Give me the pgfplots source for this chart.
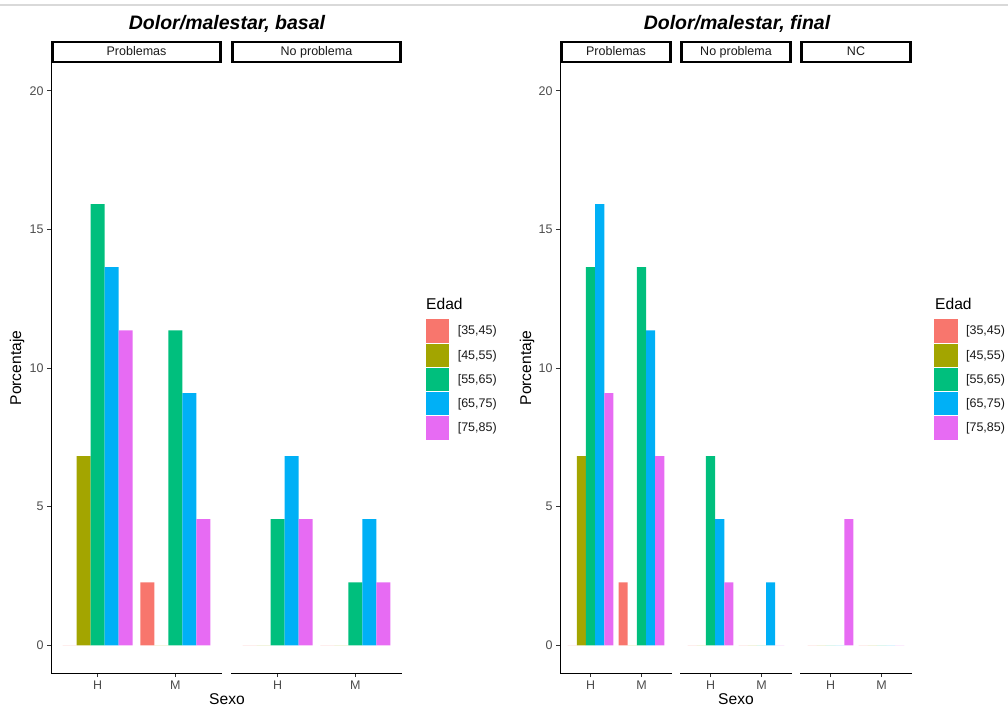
\documentclass[border=0pt]{standalone}
\usepackage{pgfplots}
\pgfplotsset{compat=1.18}
\usepackage{fontspec}
\setmainfont{Liberation Sans}
\definecolor{c1}{HTML}{F8766D}
\definecolor{c2}{HTML}{A3A500}
\definecolor{c3}{HTML}{00BF7D}
\definecolor{c4}{HTML}{00B0F6}
\definecolor{c5}{HTML}{E76BF3}
\definecolor{tickcol}{HTML}{4D4D4D}
\definecolor{stripcol}{HTML}{1A1A1A}
\newcommand{\smallf}{\fontsize{12.5}{15}\selectfont}
\newcommand{\labf}{\fontsize{15.6}{18}\selectfont}
\newcommand{\titf}{\fontsize{19.5}{23}\selectfont\bfseries\itshape}
\newcommand{\legs}{%
\addlegendentry{\lbrack 35,45)}
\addlegendentry{\lbrack 45,55)}
\addlegendentry{\lbrack 55,65)}
\addlegendentry{\lbrack 65,75)}
\addlegendentry{\lbrack 75,85)}}
\pgfplotsset{
  facet/.style={
    scale only axis, height=610pt, ymin=-1, ymax=21, xmin=0.4, xmax=2.6,
    ybar, bar width=0.18,
    xtick={1,2}, xticklabels={H,M},
    ytick={0,5,10,15,20},
    tick align=outside, major tick length=4pt,
    tick style={draw=black!80, line width=0.8pt},
    axis line style={line width=1pt, black},
    ticklabel style={font=\smallf, text=tickcol},
    /pgf/number format/assume math mode=true,
    clip=false,
    every axis title shift=0pt,
    title style={draw=black, line width=2.7pt, anchor=south, at={(0.5,1)}, yshift=-0.3pt,
      minimum height=19.9pt, inner sep=0pt, text height=9pt, text depth=2.6pt,
      font=\smallf, text=stripcol},
    legend cell align=left,
  },
  first/.style={facet, axis lines*=left},
  other/.style={facet, axis x line*=bottom, axis y line=none, ytick=\empty},
  bc/.style={fill=#1, draw=none,
    legend image code/.code={\fill[##1] (0pt,-11.65pt) rectangle (23.3pt,11.65pt);}},
  leg/.style={legend style={at={(1,0)}, anchor=north west, xshift=#1, yshift=353.7pt,
    draw=none, fill=none, inner sep=0pt, outer sep=0pt, row sep=1pt, column sep=8.5pt,
    font=\smallf, text=stripcol, nodes={inner sep=0pt}}},
}
\begin{document}
\begin{tikzpicture}
\useasboundingbox (0,0) rectangle (1008pt,707pt);
\draw[line width=1.5pt, black!15] (0pt,702pt) -- (1008pt,702pt);

% ---------------- LEFT: basal ----------------
\begin{axis}[first, at={(51pt,34pt)}, anchor=south west, width=171pt,
  title={Problemas}, title style={minimum width=168.3pt}]
\addplot[bc=c1, bar shift=-0.36] coordinates {(1,0) (2,2.27)};
\addplot[bc=c2, bar shift=-0.18] coordinates {(1,6.82) (2,0)};
\addplot[bc=c3, bar shift=0] coordinates {(1,15.91) (2,11.36)};
\addplot[bc=c4, bar shift=0.18] coordinates {(1,13.64) (2,9.09)};
\addplot[bc=c5, bar shift=0.36] coordinates {(1,11.36) (2,4.55)};
\end{axis}
\begin{axis}[other, at={(231pt,34pt)}, anchor=south west, width=171pt,
  title={No problema}, title style={minimum width=168.3pt}, leg=24pt]
\addplot[bc=c1, bar shift=-0.36] coordinates {(1,0) (2,0)};
\addplot[bc=c2, bar shift=-0.18] coordinates {(1,0) (2,0)};
\addplot[bc=c3, bar shift=0] coordinates {(1,4.55) (2,2.27)};
\addplot[bc=c4, bar shift=0.18] coordinates {(1,6.82) (2,4.55)};
\addplot[bc=c5, bar shift=0.36] coordinates {(1,4.55) (2,2.27)};
\legs
\end{axis}
\node[font=\titf, anchor=base] at (227pt,677.5pt) {Dolor/malestar, basal};
\node[font=\labf, rotate=90] at (17pt,339pt) {Porcentaje};
\node[font=\labf, anchor=base] at (227pt,2.5pt) {Sexo};
\node[font=\labf, anchor=base west, inner sep=0pt] at (426pt,397pt) {Edad};

% ---------------- RIGHT: final ----------------
\begin{axis}[first, at={(560pt,34pt)}, anchor=south west, width=112pt,
  title={Problemas}, title style={minimum width=109.3pt}]
\addplot[bc=c1, bar shift=-0.36] coordinates {(1,0) (2,2.27)};
\addplot[bc=c2, bar shift=-0.18] coordinates {(1,6.82) (2,0)};
\addplot[bc=c3, bar shift=0] coordinates {(1,13.64) (2,13.64)};
\addplot[bc=c4, bar shift=0.18] coordinates {(1,15.91) (2,11.36)};
\addplot[bc=c5, bar shift=0.36] coordinates {(1,9.09) (2,6.82)};
\end{axis}
\begin{axis}[other, at={(680pt,34pt)}, anchor=south west, width=112pt,
  title={No problema}, title style={minimum width=109.3pt}]
\addplot[bc=c1, bar shift=-0.36] coordinates {(1,0) (2,0)};
\addplot[bc=c2, bar shift=-0.18] coordinates {(1,0) (2,0)};
\addplot[bc=c3, bar shift=0] coordinates {(1,6.82) (2,0)};
\addplot[bc=c4, bar shift=0.18] coordinates {(1,4.55) (2,2.27)};
\addplot[bc=c5, bar shift=0.36] coordinates {(1,2.27) (2,0)};
\end{axis}
\begin{axis}[other, at={(800pt,34pt)}, anchor=south west, width=112pt,
  title={NC}, title style={minimum width=109.3pt}, leg=22.3pt]
\addplot[bc=c1, bar shift=-0.36] coordinates {(1,0) (2,0)};
\addplot[bc=c2, bar shift=-0.18] coordinates {(1,0) (2,0)};
\addplot[bc=c3, bar shift=0] coordinates {(1,0) (2,0)};
\addplot[bc=c4, bar shift=0.18] coordinates {(1,0) (2,0)};
\addplot[bc=c5, bar shift=0.36] coordinates {(1,4.55) (2,0)};
\legs
\end{axis}
\node[font=\titf, anchor=base] at (737pt,677.5pt) {Dolor/malestar, final};
\node[font=\labf, rotate=90] at (527pt,339pt) {Porcentaje};
\node[font=\labf, anchor=base] at (736pt,2.5pt) {Sexo};
\node[font=\labf, anchor=base west, inner sep=0pt] at (935pt,397pt) {Edad};
\end{tikzpicture}
\end{document}
